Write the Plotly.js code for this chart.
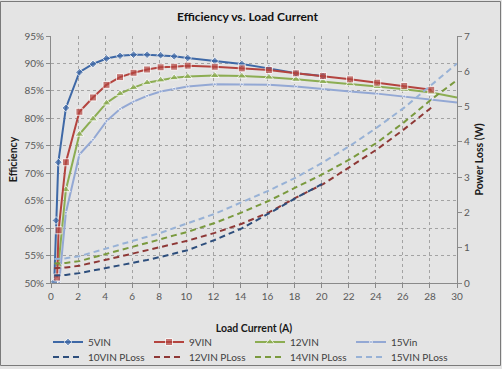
<!DOCTYPE html>
<html>
<head>
<meta charset="utf-8">
<script src="https://cdn.plot.ly/plotly-3.0.1.min.js"></script>
<style>html,body{margin:0;padding:0;background:#e4e4e4;}#chart{width:502px;height:369px;}</style>
</head>
<body>
<div id="chart"></div>
<script>
// ---- Efficiency data (%) ----
const x5   = [0.24, 0.37, 0.54, 1.1, 2.1, 3.1, 4.1, 5.1, 6.1, 7.1, 8.1, 9.1, 10.1, 12.1, 14.1, 16.1, 18.1, 20.1];
const eff5 = [50.2, 61.4, 72.0, 81.9, 88.4, 89.9, 90.9, 91.4, 91.6, 91.6, 91.5, 91.3, 91.0, 90.45, 89.9, 89.1, 88.2, 87.7];

const x9   = [0.45, 0.56, 1.1, 2.1, 3.1, 4.1, 5.1, 6.1, 7.1, 8.1, 9.1, 10.1, 12.1, 14.1, 16.1, 18.1, 20.1, 22.1, 24.1, 26.1, 28.1];
const eff9 = [51.0, 59.6, 72.0, 81.2, 83.8, 86.1, 87.5, 88.3, 88.9, 89.3, 89.4, 89.6, 89.4, 89.1, 88.8, 88.2, 87.7, 87.1, 86.5, 85.9, 85.2];

const x12   = [0.55, 1.1, 2.1, 3.1, 4.1, 5.1, 6.1, 7.1, 8.1, 9.1, 10.1, 12.1, 14.1, 16.1, 18.1, 20.1, 22.1, 24.1, 26.1, 28.1, 30];
const eff12 = [53.3, 67.0, 77.1, 79.9, 82.8, 84.5, 85.6, 86.5, 87.0, 87.4, 87.6, 87.8, 87.7, 87.5, 87.1, 86.7, 86.3, 85.8, 85.3, 84.7, 83.8];

const x15   = [0.6, 1.1, 2.1, 3.1, 4.1, 5.1, 6.1, 7.1, 8.1, 9.1, 10.1, 12.1, 14.1, 16.1, 18.1, 20.1, 22.1, 24.1, 26.1, 28.1, 30];
const eff15 = [50.0, 62.8, 73.4, 76.1, 79.5, 81.7, 83.05, 84.1, 84.9, 85.4, 85.8, 86.2, 86.2, 86.1, 85.8, 85.3, 84.9, 84.5, 84.0, 83.5, 82.9];

// ---- Power loss data (W) ----
const xp10 = [0.25, 1.1, 2.1, 3.1, 4.1, 5.1, 6.1, 7.1, 8.1, 9.1, 10.1, 12.1, 14.1, 16.1, 18.1, 20.1];
const pl10 = [0.21, 0.23, 0.28, 0.35, 0.42, 0.49, 0.57, 0.65, 0.74, 0.83, 0.93, 1.22, 1.55, 1.97, 2.41, 2.82];

const xp12 = [0.25, 1.1, 2.1, 3.1, 4.1, 5.1, 6.1, 7.1, 8.1, 9.1, 10.1, 12.1, 14.1, 16.1, 18.1, 20.1, 22.1, 24.1, 26.1, 28.1];
const pl12 = [0.42, 0.44, 0.49, 0.57, 0.66, 0.75, 0.84, 0.93, 1.02, 1.11, 1.20, 1.42, 1.68, 2.00, 2.42, 2.80, 3.30, 3.79, 4.36, 4.97];

const xp14 = [0.25, 1.1, 2.1, 3.1, 4.1, 5.1, 6.1, 7.1, 8.1, 9.1, 10.1, 12.1, 14.1, 16.1, 18.1, 20.1, 22.1, 24.1, 26.1, 28.1, 30];
const pl14 = [0.55, 0.57, 0.62, 0.72, 0.83, 0.93, 1.03, 1.13, 1.24, 1.35, 1.45, 1.70, 2.00, 2.33, 2.71, 3.09, 3.51, 3.98, 4.56, 5.20, 5.75];

const xp15 = [0.25, 1.1, 2.1, 3.1, 4.1, 5.1, 6.1, 7.1, 8.1, 9.1, 10.1, 12.1, 14.1, 16.1, 18.1, 20.1, 22.1, 24.1, 26.1, 28.1, 30];
const pl15 = [0.68, 0.70, 0.76, 0.87, 0.99, 1.09, 1.19, 1.30, 1.42, 1.56, 1.69, 1.96, 2.29, 2.62, 2.99, 3.42, 3.89, 4.41, 4.97, 5.60, 6.22];

const effNames  = ['5VIN', '9VIN', '12VIN', '15Vin'];
const lossNames = ['10VIN PLoss', '12VIN PLoss', '14VIN PLoss', '15VIN PLoss'];

const xTicks  = [0, 2, 4, 6, 8, 10, 12, 14, 16, 18, 20, 22, 24, 26, 28, 30];

// ---- styling ----
const C = {
  b5: '#3e68a6', r9: '#b4443f', g12: '#8cad52', lb15: '#93a8d4',
  p10: '#2d4e7c', p12: '#8e3836', p14: '#7a9a3e', p15: '#98b2d6'
};
const FONT = 'Lato, "Open Sans", sans-serif';
const hideEdge = xs => xs.map(v => (v >= 30 ? 0 : 1));

function effTrace(x, y, name, color, symbol, size, rank) {
  return {
    x: x, y: y, name: name, type: 'scatter', mode: 'lines+markers',
    xaxis: 'x', yaxis: 'y', legend: 'legend', legendrank: rank,
    line: {color: color, width: 2},
    marker: {color: color, symbol: symbol, size: hideEdge(x).map(s => s * size)},
    cliponaxis: true, hoverinfo: 'skip'
  };
}
function lossTrace(x, y, name, color, rank) {
  return {
    x: x, y: y, name: name, type: 'scatter', mode: 'lines',
    xaxis: 'x', yaxis: 'y2', legend: 'legend2', legendrank: rank,
    line: {color: color, width: 2, dash: '6px,4px'},
    hoverinfo: 'skip'
  };
}

const data = [
  lossTrace(xp15, pl15, lossNames[3], C.p15, 4),
  lossTrace(xp14, pl14, lossNames[2], C.p14, 3),
  lossTrace(xp12, pl12, lossNames[1], C.p12, 2),
  lossTrace(xp10, pl10, lossNames[0], C.p10, 1),
  effTrace(x15, eff15, effNames[3], C.lb15, 'circle', 3, 4),
  effTrace(x12, eff12, effNames[2], C.g12, 'triangle-up', 8, 3),
  effTrace(x5, eff5, effNames[0], C.b5, 'diamond', 6, 1),
  effTrace(x9, eff9, effNames[1], C.r9, 'square', 7, 2)
];

const L = 51, R = 45, T = 36, B = 86, W = 502, H = 369;
const pw = W - L - R, ph = H - T - B;
const px = v => (v - L) / pw;           // pixel x -> paper x
const py = v => (H - B - v) / ph;       // pixel y -> paper y

const tickFont = {family: FONT, size: 10, color: '#595959'};
const titleFont = {family: FONT, size: 10.5, color: '#1a1a1a', weight: 'bold'};

const layout = {
  width: W, height: H,
  margin: {l: L, r: R, t: T, b: B, pad: 0, autoexpand: false},
  paper_bgcolor: '#e4e4e4',
  plot_bgcolor: '#e4e4e4',
  font: {family: FONT},
  showlegend: true,
  title: {
    text: 'Efficiency vs. Load Current',
    font: {family: FONT, size: 12, color: '#111', weight: 'bold'},
    xref: 'container', x: 0.493, xanchor: 'center',
    yref: 'container', y: 1 - 17 / H, yanchor: 'middle'
  },
  xaxis: {
    range: [0, 30], tickvals: xTicks, ticktext: xTicks.map(String),
    showgrid: true, gridcolor: '#a3a3a3', griddash: 'dot', gridwidth: 1,
    showline: true, linecolor: '#8a8a8a', linewidth: 1,
    ticks: 'outside', ticklen: 4, tickcolor: '#8a8a8a',
    tickfont: tickFont, zeroline: false, automargin: false,
    title: {text: 'Load Current (A)', font: titleFont, standoff: 23}
  },
  yaxis: {
    range: [50, 95], dtick: 5, tick0: 50, ticksuffix: '%',
    showgrid: true, gridcolor: '#a3a3a3', griddash: 'dot', gridwidth: 1,
    showline: true, linecolor: '#8a8a8a', linewidth: 1,
    ticks: 'outside', ticklen: 4, tickcolor: '#8a8a8a',
    tickfont: tickFont, zeroline: false, automargin: false,
    title: {text: 'Efficiency', font: titleFont, standoff: 4}
  },
  yaxis2: {
    range: [0, 7], dtick: 1, tick0: 0, overlaying: 'y', side: 'right',
    showgrid: false, showline: true, linecolor: '#8a8a8a', linewidth: 1,
    ticks: 'outside', ticklen: 4, tickcolor: '#8a8a8a',
    tickfont: tickFont, zeroline: false, automargin: false,
    title: {text: 'Power Loss (W)', font: titleFont, standoff: 6}
  },
  legend: {
    orientation: 'h', x: px(48), xanchor: 'left', y: py(342), yanchor: 'middle',
    entrywidth: 56, entrywidthmode: 'pixels', bgcolor: 'rgba(0,0,0,0)',
    font: {family: FONT, size: 10, color: '#404040'}, itemwidth: 30, traceorder: 'normal'
  },
  legend2: {
    orientation: 'h', x: px(48), xanchor: 'left', y: py(357), yanchor: 'middle',
    entrywidth: 56, entrywidthmode: 'pixels', bgcolor: 'rgba(0,0,0,0)',
    font: {family: FONT, size: 10, color: '#404040'}, itemwidth: 30, traceorder: 'normal'
  },
  shapes: [{
    type: 'rect', xref: 'paper', yref: 'paper',
    x0: px(0.5), x1: px(500.5), y0: py(365.5), y1: py(1.5),
    line: {color: '#7a7a7a', width: 1}, fillcolor: 'rgba(0,0,0,0)', layer: 'below'
  }]
};

Plotly.newPlot('chart', data, layout, {staticPlot: true, displayModeBar: false});
</script>
</body>
</html>
